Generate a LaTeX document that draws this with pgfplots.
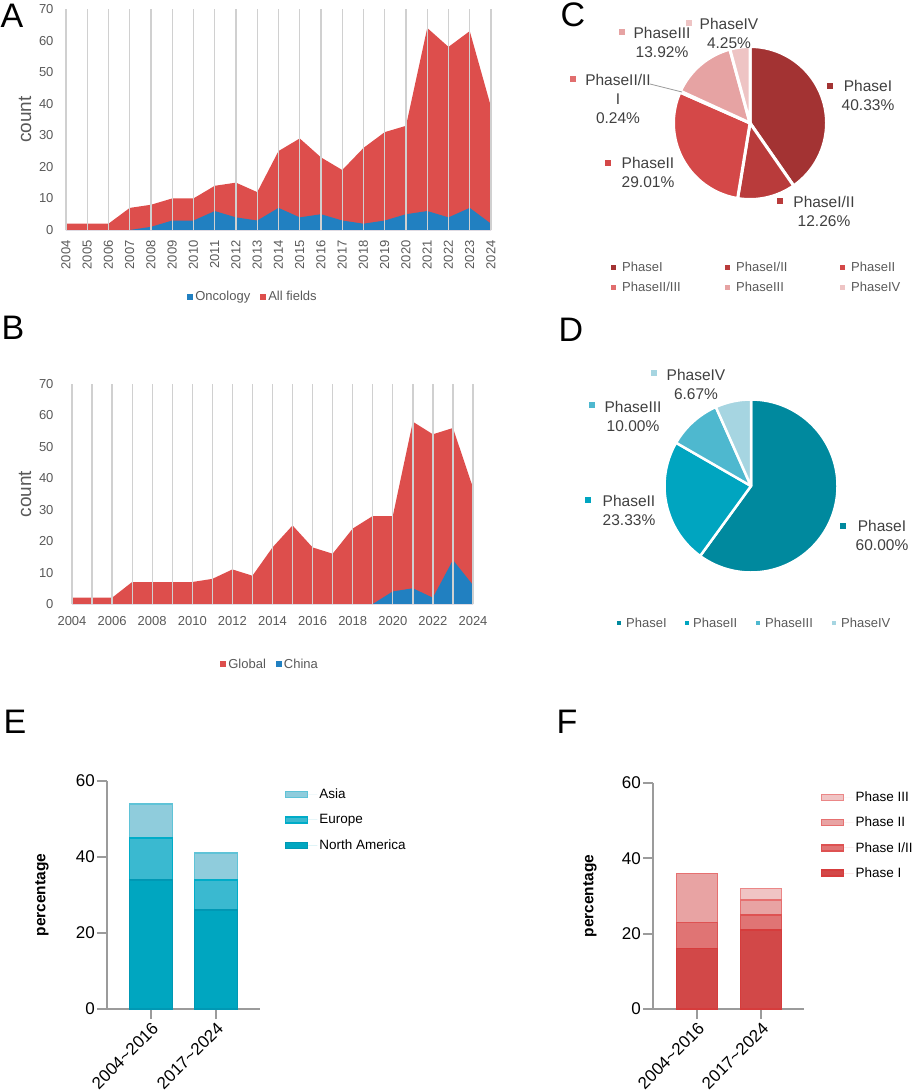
\documentclass[border=0pt]{standalone}
\usepackage{fontspec}
\setmainfont{Liberation Sans}
\usepackage{pgfplots}
\pgfplotsset{compat=1.18}
\newcommand{\fs}[2]{\fontsize{#1}{#2}\selectfont}
\definecolor{redA}{RGB}{221,78,76}
\definecolor{blueA}{RGB}{33,128,193}
\definecolor{gridc}{RGB}{208,208,208}
\definecolor{txtgray}{RGB}{89,89,89}
\definecolor{lblgray}{RGB}{64,64,64}
\definecolor{axgray}{RGB}{155,155,155}
% pie C
\definecolor{cI}{RGB}{163,51,51}
\definecolor{cIb}{RGB}{185,59,59}
\definecolor{cII}{RGB}{212,72,72}
\definecolor{cIIb}{RGB}{225,110,110}
\definecolor{cIII}{RGB}{230,163,163}
\definecolor{cIV}{RGB}{238,196,196}
% pie D
\definecolor{dI}{RGB}{0,137,158}
\definecolor{dII}{RGB}{0,165,192}
\definecolor{dIII}{RGB}{78,184,207}
\definecolor{dIV}{RGB}{166,213,225}
% E
\definecolor{naF}{RGB}{0,166,192}
\definecolor{naD}{RGB}{0,152,180}
\definecolor{euF}{RGB}{58,185,208}
\definecolor{euD}{RGB}{0,172,200}
\definecolor{asF}{RGB}{143,204,220}
\definecolor{asD}{RGB}{95,195,215}
% F
\definecolor{f1F}{RGB}{210,72,72}
\definecolor{f1D}{RGB}{214,60,60}
\definecolor{f2F}{RGB}{224,116,116}
\definecolor{f2D}{RGB}{222,82,82}
\definecolor{f3F}{RGB}{232,163,163}
\definecolor{f3D}{RGB}{230,112,112}
\definecolor{f4F}{RGB}{240,196,196}
\definecolor{f4D}{RGB}{235,135,135}

\newcommand{\drawpie}[3]{%
  \gdef\cumsum{0}%
  \foreach \p/\c in {#2} {%
    \pgfmathsetmacro\sa{90-3.6*\cumsum}%
    \pgfmathsetmacro\newsum{\cumsum+\p}%
    \xdef\cumsum{\newsum}%
    \pgfmathsetmacro\ea{90-3.6*\cumsum}%
    \edef\tmp{\noexpand\fill[\c, draw=white, line width=#3, line join=round] (axis cs:0,0) -- ++(\sa:#1) arc[start angle=\sa, end angle=\ea, radius=#1] -- cycle;}%
    \tmp
  }%
}

\begin{document}
\begin{tikzpicture}
\path[use as bounding box] (0,0) rectangle (913pt,-1091pt);

% panel letters
\node[font=\fs{34}{34}] at (12pt,-16pt) {A};
\node[font=\fs{34}{34}] at (13pt,-328pt) {B};
\node[font=\fs{34}{34}] at (573pt,-15pt) {C};
\node[font=\fs{34}{34}] at (571pt,-330pt) {D};
\node[font=\fs{34}{34}] at (15pt,-722pt) {E};
\node[font=\fs{34}{34}] at (567pt,-722pt) {F};

% ---------------- A ----------------
\begin{axis}[
  at={(66pt,-230pt)}, anchor=south west,
  scale only axis, width=425pt, height=221pt,
  xmin=2004, xmax=2024, ymin=0, ymax=70,
  axis line style={draw=none},
  major tick length=0pt,
  xtick={2004,2005,...,2024},
  ytick={0,10,...,70},
  /pgf/number format/assume math mode=true,
  /pgf/number format/1000 sep={},
  tick label style={font=\fs{13}{13}, text=txtgray},
  xticklabel style={yshift=-7pt, rotate=90, anchor=east},
  yticklabel style={xshift=-9pt},
  xmajorgrids, major grid style={draw=gridc, line width=1.3pt},
  axis on top,
  ylabel={count},
  ylabel style={font=\fs{19}{19}, text=txtgray, at={(axis description cs:-0.0965,0.5)}, anchor=center},
  legend columns=2,
  legend style={at={(axis description cs:0.44,-0.303)}, anchor=center, draw=none, fill=none, font=\fs{13}{13}, text=txtgray, /tikz/every even column/.append style={column sep=8pt}},
  legend image code/.code={\fill[#1, draw=none] (0pt,-3pt) rectangle (6pt,3pt);},
]
\addplot[fill=redA, draw=none, forget plot] coordinates {
(2004,2) (2005,2) (2006,2) (2007,7) (2008,8) (2009,10) (2010,10) (2011,14) (2012,15) (2013,12) (2014,25) (2015,29) (2016,23) (2017,19) (2018,26) (2019,31) (2020,33) (2021,64) (2022,58) (2023,63) (2024,39)} \closedcycle;
\addplot[fill=blueA, draw=none, forget plot] coordinates {
(2004,0) (2005,0) (2006,0) (2007,0) (2008,1) (2009,3) (2010,3) (2011,6) (2012,4) (2013,3) (2014,7) (2015,4) (2016,5) (2017,3) (2018,2) (2019,3) (2020,5) (2021,6) (2022,4) (2023,7) (2024,2)} \closedcycle;
\addlegendimage{fill=blueA, draw=none}
\addlegendentry{Oncology}
\addlegendimage{fill=redA, draw=none}
\addlegendentry{All fields}
\end{axis}

% ---------------- B ----------------
\begin{axis}[
  at={(72pt,-604pt)}, anchor=south west,
  scale only axis, width=401pt, height=220pt,
  xmin=2004, xmax=2024, ymin=0, ymax=70,
  axis line style={draw=none},
  major tick length=0pt, minor tick length=0pt,
  xtick={2004,2006,...,2024},
  minor xtick={2005,2007,...,2023},
  ytick={0,10,...,70},
  /pgf/number format/assume math mode=true,
  /pgf/number format/1000 sep={},
  tick label style={font=\fs{13}{13}, text=txtgray},
  xticklabel style={yshift=-9pt},
  yticklabel style={xshift=-15pt},
  xmajorgrids, xminorgrids,
  major grid style={draw=gridc, line width=1.3pt},
  minor grid style={draw=gridc, line width=1.3pt},
  axis on top,
  ylabel={count},
  ylabel style={font=\fs{19}{19}, text=txtgray, at={(axis description cs:-0.117,0.5)}, anchor=center},
  legend columns=2,
  legend style={at={(axis description cs:0.494,-0.273)}, anchor=center, draw=none, fill=none, font=\fs{13}{13}, text=txtgray, /tikz/every even column/.append style={column sep=8pt}},
  legend image code/.code={\fill[#1, draw=none] (0pt,-3pt) rectangle (6pt,3pt);},
]
\addplot[fill=redA, draw=none] coordinates {
(2004,2) (2005,2) (2006,2) (2007,7) (2008,7) (2009,7) (2010,7) (2011,8) (2012,11) (2013,9) (2014,18) (2015,25) (2016,18) (2017,16) (2018,24) (2019,28) (2020,28) (2021,58) (2022,54) (2023,56) (2024,37)} \closedcycle;
\addlegendentry{Global}
\addplot[fill=blueA, draw=none] coordinates {
(2004,0) (2005,0) (2006,0) (2007,0) (2008,0) (2009,0) (2010,0) (2011,0) (2012,0) (2013,0) (2014,0) (2015,0) (2016,0) (2017,0) (2018,0) (2019,0) (2020,4) (2021,5) (2022,2) (2023,14) (2024,6)} \closedcycle;
\addlegendentry{China}
\end{axis}

% ---------------- C ----------------
\begin{axis}[at={(750pt,-123pt)}, anchor=center, scale only axis, width=153pt, height=153pt,
  hide axis, xmin=-1, xmax=1, ymin=-1, ymax=1, clip=false]
\drawpie{76.5pt}{40.33/cI, 12.26/cIb, 29.01/cII, 0.24/cIIb, 13.92/cIII, 4.25/cIV}{3pt}
\end{axis}
\draw[gray!80, line width=0.8pt] (650pt,-84pt) -- (682pt,-92pt);
\begin{scope}[every node/.style={font=\fs{15.5}{19}, text=lblgray, align=center}]
\fill[cI] (827pt,-83pt) rectangle (833pt,-89pt);
\node at (868pt,-95.5pt) {PhaseI\\40.33\%};
\fill[cIb] (777pt,-198pt) rectangle (783pt,-204pt);
\node at (824pt,-211pt) {PhaseI/II\\12.26\%};
\fill[cII] (605pt,-160pt) rectangle (611pt,-166pt);
\node at (648pt,-172.5pt) {PhaseII\\29.01\%};
\fill[cIIb] (570pt,-76pt) rectangle (576pt,-82pt);
\node at (618pt,-98.5pt) {PhaseII/II\\I\\0.24\%};
\fill[cIII] (619pt,-29pt) rectangle (625pt,-35pt);
\node at (662pt,-42.5pt) {PhaseIII\\13.92\%};
\fill[cIV] (686pt,-20pt) rectangle (692pt,-26pt);
\node at (729pt,-33pt) {PhaseIV\\4.25\%};
\end{scope}
% legend C
\begin{scope}[every node/.style={font=\fs{13}{13}, text=txtgray, anchor=west, inner sep=0pt}]
\fill[cI]   (610.5pt,-264.5pt) rectangle (615.5pt,-269.5pt); \node at (622pt,-267pt) {PhaseI};
\fill[cIb]  (724.5pt,-264.5pt) rectangle (729.5pt,-269.5pt); \node at (736pt,-267pt) {PhaseI/II};
\fill[cII]  (839.5pt,-264.5pt) rectangle (844.5pt,-269.5pt); \node at (851pt,-267pt) {PhaseII};
\fill[cIIb] (610.5pt,-284.5pt) rectangle (615.5pt,-289.5pt); \node at (622pt,-287pt) {PhaseII/III};
\fill[cIII] (724.5pt,-284.5pt) rectangle (729.5pt,-289.5pt); \node at (736pt,-287pt) {PhaseIII};
\fill[cIV]  (839.5pt,-284.5pt) rectangle (844.5pt,-289.5pt); \node at (851pt,-287pt) {PhaseIV};
\end{scope}

% ---------------- D ----------------
\begin{axis}[at={(751pt,-486pt)}, anchor=center, scale only axis, width=173pt, height=173pt,
  hide axis, xmin=-1, xmax=1, ymin=-1, ymax=1, clip=false]
\drawpie{86.5pt}{60/dI, 23.33/dII, 10/dIII, 6.67/dIV}{2.5pt}
\end{axis}
\begin{scope}[every node/.style={font=\fs{15.5}{19}, text=lblgray, align=center}]
\fill[dI] (840pt,-523pt) rectangle (846pt,-529pt);
\node at (882pt,-535.5pt) {PhaseI\\60.00\%};
\fill[dII] (585pt,-497pt) rectangle (591pt,-503pt);
\node at (629pt,-510pt) {PhaseII\\23.33\%};
\fill[dIII] (589pt,-402pt) rectangle (595pt,-408pt);
\node at (633pt,-416pt) {PhaseIII\\10.00\%};
\fill[dIV] (651pt,-370pt) rectangle (657pt,-376pt);
\node at (696pt,-384.5pt) {PhaseIV\\6.67\%};
\end{scope}
\begin{scope}[every node/.style={font=\fs{13}{13}, text=txtgray, anchor=west, inner sep=0pt}]
\fill[dI]   (617pt,-621pt) rectangle (621pt,-625pt); \node at (626pt,-623pt) {PhaseI};
\fill[dII]  (685pt,-621pt) rectangle (689pt,-625pt); \node at (693pt,-623pt) {PhaseII};
\fill[dIII] (756pt,-621pt) rectangle (760pt,-625pt); \node at (765pt,-623pt) {PhaseIII};
\fill[dIV]  (832pt,-621pt) rectangle (836pt,-625pt); \node at (841pt,-623pt) {PhaseIV};
\end{scope}

% ---------------- E ----------------
\begin{axis}[
  at={(107pt,-1009pt)}, anchor=south west,
  scale only axis, width=153pt, height=228pt,
  xmin=0.323, xmax=2.677, ymin=0, ymax=60,
  ybar stacked, bar width=43pt,
  axis x line*=bottom, axis y line*=left,
  axis line style={draw=axgray, line width=2pt},
  tick style={draw=axgray, line width=2pt},
  tick align=outside, major tick length=10pt,
  xtick={1,2}, xticklabels={2004\textasciitilde2016, 2017\textasciitilde2024},
  ytick={0,20,40,60},
  /pgf/number format/assume math mode=true,
  tick label style={font=\fs{17}{17}},
  xticklabel style={rotate=45, anchor=north east, inner sep=1.5pt},
  yticklabel style={inner sep=2pt},
  ylabel={\bfseries percentage},
  ylabel style={font=\fs{15.5}{15.5}, at={(axis description cs:-0.425,0.5)}, anchor=center},
  reverse legend,
  legend cell align=left,
  legend style={at={(axis description cs:1.14,0.985)}, anchor=north west, draw=none, fill=none, font=\fs{13.5}{13.5}, row sep=10.5pt},
  legend image code/.code={\draw[#1, line width=1.5pt] (0pt,-3pt) rectangle (22pt,3pt); \path[draw=none] (0pt,0pt) -- (32pt,0pt);},
]
\addplot[fill=naF, draw=naD, line width=1.5pt] coordinates {(1,34) (2,26)};
\addlegendentry{North America}
\addplot[fill=euF, draw=euD, line width=1.5pt] coordinates {(1,11) (2,8)};
\addlegendentry{Europe}
\addplot[fill=asF, draw=asD, line width=1.5pt] coordinates {(1,9) (2,7)};
\addlegendentry{Asia}
\end{axis}

% ---------------- F ----------------
\begin{axis}[
  at={(653pt,-1009pt)}, anchor=south west,
  scale only axis, width=151pt, height=226pt,
  xmin=0.3125, xmax=2.67, ymin=0, ymax=60,
  ybar stacked, bar width=41pt,
  axis x line*=bottom, axis y line*=left,
  axis line style={draw=axgray, line width=2pt},
  tick style={draw=axgray, line width=2pt},
  tick align=outside, major tick length=10pt,
  xtick={1,2}, xticklabels={2004\textasciitilde2016, 2017\textasciitilde2024},
  ytick={0,20,40,60},
  /pgf/number format/assume math mode=true,
  tick label style={font=\fs{17}{17}},
  xticklabel style={rotate=45, anchor=north east, inner sep=1.5pt},
  yticklabel style={inner sep=2pt},
  ylabel={\bfseries percentage},
  ylabel style={font=\fs{15.5}{15.5}, at={(axis description cs:-0.417,0.5)}, anchor=center},
  reverse legend,
  legend cell align=left,
  legend style={at={(axis description cs:1.09,0.98)}, anchor=north west, draw=none, fill=none, font=\fs{13.5}{13.5}, row sep=10pt},
  legend image code/.code={\draw[#1, line width=1.5pt] (0pt,-3pt) rectangle (22pt,3pt); \path[draw=none] (0pt,0pt) -- (32pt,0pt);},
]
\addplot[fill=f1F, draw=f1D, line width=1.5pt] coordinates {(1,16) (2,21)};
\addlegendentry{Phase I}
\addplot[fill=f2F, draw=f2D, line width=1.5pt] coordinates {(1,7) (2,4)};
\addlegendentry{Phase I/II}
\addplot[fill=f3F, draw=f3D, line width=1.5pt] coordinates {(1,13) (2,4)};
\addlegendentry{Phase II}
\addplot[fill=f4F, draw=f4D, line width=1.5pt] coordinates {(1,0) (2,3)};
\addlegendentry{Phase III}
\end{axis}
\end{tikzpicture}
\end{document}
